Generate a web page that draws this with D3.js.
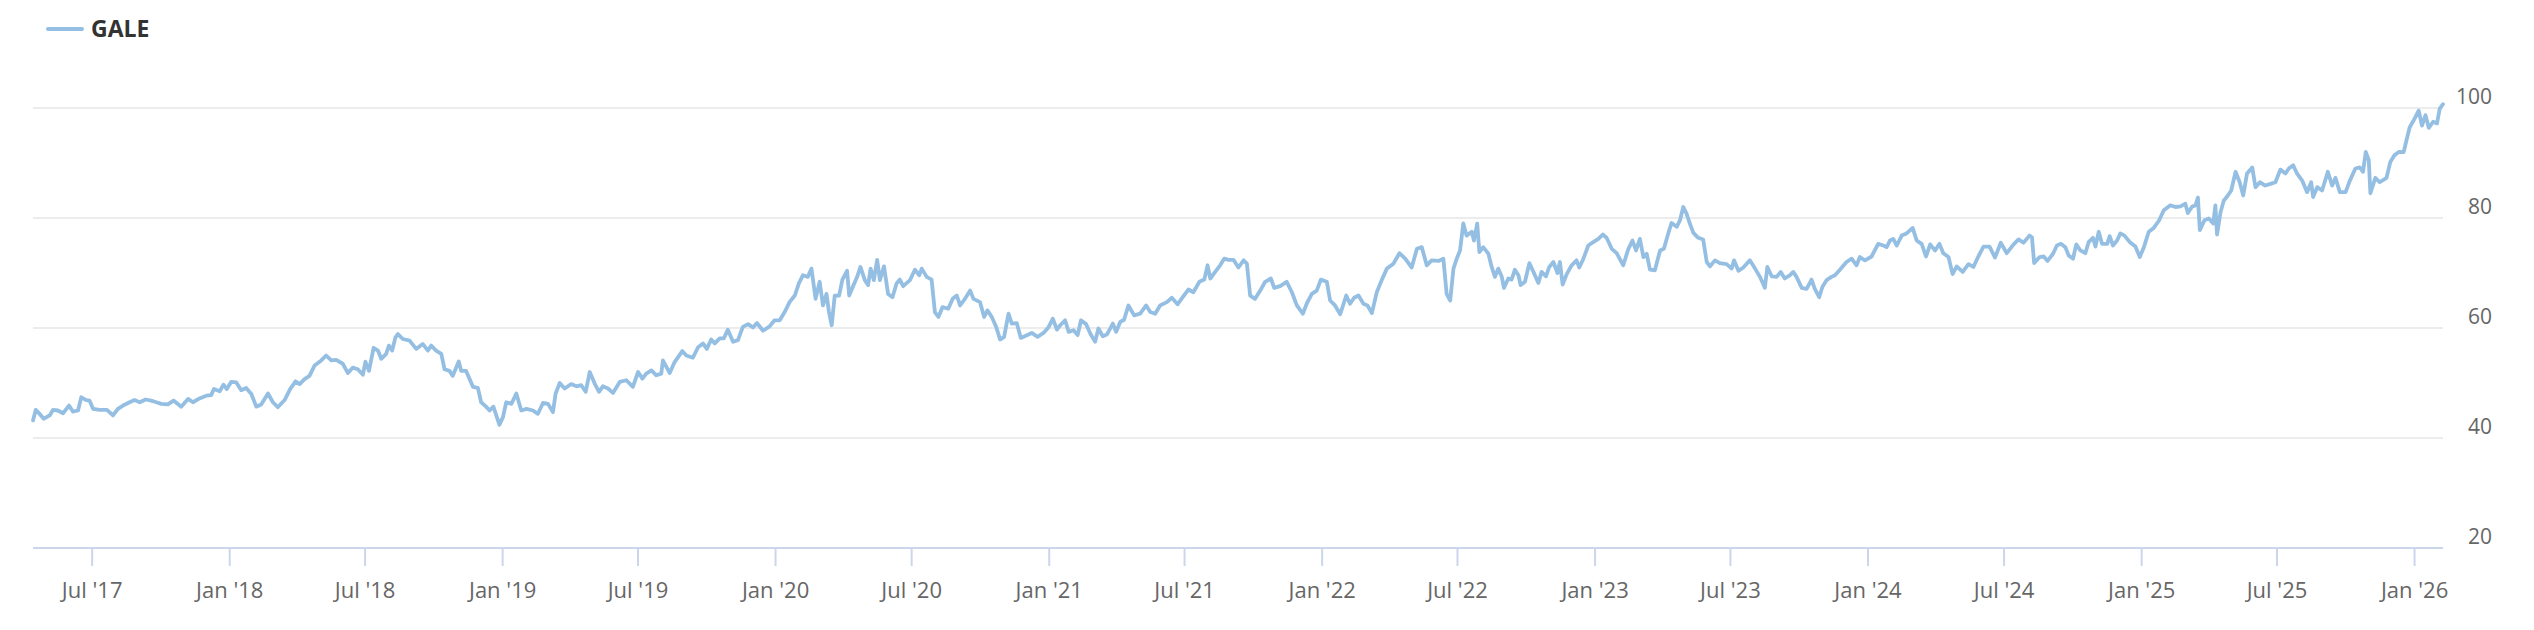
<!DOCTYPE html>
<html>
<head>
<meta charset="utf-8">
<script src="https://cdn.jsdelivr.net/npm/d3@7"></script>
<style>
  html, body { margin: 0; padding: 0; background: #ffffff; }
  svg { display: block; }
</style>
</head>
<body>
<svg id="chart" width="2534" height="630"></svg>
<script>
// ---- DATA ----
const seriesName = "GALE";

// time as decimal years
const times = [
2017.281,2017.291,2017.305,2017.320,2017.342,2017.354,2017.372,2017.391,2017.413,2017.427,2017.446,2017.458,2017.476,2017.488,2017.501,2017.525,2017.552,2017.574,2017.592,2017.611,2017.635,2017.653,2017.672,2017.694,2017.714,2017.733,2017.751,2017.775,2017.796,2017.824,2017.849,2017.867,2017.891,2017.916,2017.934,2017.944,2017.965,2017.979,2017.991,
2018.007,2018.026,2018.044,2018.062,2018.081,2018.099,2018.117,2018.142,2018.160,2018.178,2018.203,2018.223,2018.243,2018.258,2018.276,2018.294,2018.313,2018.337,2018.355,2018.374,2018.392,2018.416,2018.435,2018.453,2018.471,2018.490,2018.499,2018.512,2018.529,2018.545,2018.557,2018.575,2018.585,2018.597,2018.609,2018.618,2018.636,2018.661,2018.685,2018.709,2018.728,2018.740,2018.758,2018.777,2018.789,2018.807,2018.819,2018.841,2018.850,2018.868,2018.893,2018.911,2018.923,2018.941,2018.954,2018.968,2018.990,
2019.003,2019.015,2019.034,2019.052,2019.070,2019.089,2019.113,2019.131,2019.150,2019.168,2019.186,2019.196,2019.211,2019.229,2019.253,2019.272,2019.290,2019.306,2019.321,2019.339,2019.355,2019.369,2019.388,2019.406,2019.431,2019.455,2019.479,2019.498,2019.514,2019.528,2019.547,2019.565,2019.583,2019.589,2019.614,2019.632,2019.660,2019.675,2019.699,2019.718,2019.736,2019.750,2019.766,2019.779,2019.797,2019.812,2019.827,2019.846,2019.864,2019.882,2019.901,2019.919,2019.934,2019.956,2019.980,2019.998,
2020.017,2020.035,2020.053,2020.072,2020.087,2020.102,2020.120,2020.133,2020.148,2020.163,2020.175,2020.188,2020.197,2020.207,2020.218,2020.234,2020.246,2020.263,2020.271,2020.285,2020.300,2020.312,2020.328,2020.340,2020.349,2020.361,2020.373,2020.383,2020.398,2020.413,2020.429,2020.444,2020.456,2020.468,2020.493,2020.511,2020.527,2020.536,2020.554,2020.572,2020.584,2020.597,2020.612,2020.633,2020.649,2020.664,2020.676,2020.694,2020.713,2020.725,
2020.749,2020.764,2020.776,2020.792,2020.808,2020.822,2020.837,2020.853,2020.865,2020.883,2020.898,2020.920,2020.938,2020.959,2020.981,2021.000,2021.015,2021.030,2021.042,2021.060,2021.073,2021.091,2021.106,2021.118,2021.137,2021.154,2021.170,2021.182,2021.198,2021.213,2021.235,2021.247,2021.262,2021.276,2021.292,2021.313,2021.335,2021.357,2021.372,2021.390,2021.408,2021.433,2021.451,2021.472,2021.491,2021.512,2021.530,2021.552,2021.570,2021.582,2021.592,2021.610,2021.628,2021.643,2021.659,2021.677,2021.695,2021.714,2021.726,2021.738,2021.756,2021.775,2021.793,2021.814,2021.826,2021.848,2021.872,2021.891,2021.909,2021.931,2021.946,2021.964,2021.982,2021.997,
2022.019,2022.031,2022.049,2022.068,2022.090,2022.104,2022.119,2022.135,2022.153,2022.168,2022.184,2022.202,2022.220,2022.239,2022.263,2022.285,2022.306,2022.330,2022.349,2022.367,2022.385,2022.403,2022.428,2022.446,2022.458,2022.471,2022.483,2022.495,2022.507,
2022.519,2022.531,2022.550,2022.558,2022.570,2022.578,2022.592,2022.611,2022.623,2022.635,2022.647,2022.660,2022.668,2022.684,2022.696,2022.708,2022.721,2022.729,2022.745,2022.761,2022.776,2022.794,2022.806,2022.822,2022.834,2022.849,2022.864,2022.873,2022.883,2022.898,2022.916,2022.934,2022.944,2022.959,2022.977,2022.995,
2023.014,2023.030,2023.044,2023.063,2023.081,2023.105,2023.124,2023.139,2023.152,2023.166,2023.179,2023.191,2023.203,2023.221,2023.240,2023.254,2023.270,2023.282,2023.301,2023.313,2023.325,2023.337,2023.349,2023.362,2023.380,2023.398,2023.411,2023.423,2023.441,2023.459,2023.484,2023.502,2023.511,2023.527,2023.545,2023.569,2023.588,2023.606,2023.624,2023.633,2023.649,2023.667,2023.682,2023.697,2023.716,2023.728,2023.740,2023.759,2023.777,2023.795,2023.807,2023.823,2023.835,2023.850,2023.868,2023.881,2023.899,2023.923,2023.942,2023.960,2023.972,2023.991,
2024.015,2024.039,2024.058,2024.070,2024.082,2024.094,2024.107,2024.125,2024.143,2024.165,2024.180,2024.198,2024.214,2024.229,2024.247,2024.263,
2024.277,2024.296,2024.311,2024.326,2024.348,2024.369,2024.387,2024.405,2024.424,2024.446,2024.466,2024.487,2024.509,2024.534,2024.552,2024.570,2024.592,2024.601,2024.609,2024.629,2024.644,2024.658,2024.678,2024.692,2024.707,2024.723,2024.735,2024.751,2024.763,2024.778,2024.796,2024.808,2024.824,2024.833,2024.845,2024.857,2024.876,2024.885,2024.897,2024.912,2024.924,2024.939,2024.959,2024.979,2024.995,
2025.010,2025.028,2025.046,2025.065,2025.083,2025.107,2025.126,2025.144,2025.162,2025.171,2025.187,2025.199,2025.208,2025.215,2025.232,2025.248,2025.264,2025.272,2025.278,2025.291,2025.303,2025.315,2025.330,2025.346,2025.361,2025.374,2025.388,2025.407,2025.419,2025.435,2025.455,2025.474,2025.492,2025.510,2025.529,2025.541,2025.557,2025.571,2025.590,2025.608,2025.623,2025.630,2025.645,2025.663,2025.684,2025.700,2025.712,2025.728,2025.749,2025.764,2025.785,2025.801,2025.813,2025.823,2025.834,2025.840,2025.858,2025.874,2025.899,2025.913,2025.928,2025.944,2025.962,2025.972,2025.984,2025.999,
2026.017,2026.029,2026.042,2026.054,2026.070,2026.084,2026.094,2026.106
];

const prices = [
43.2,45.1,44.4,43.5,44.1,45.1,45.0,44.5,45.9,44.8,45.0,47.4,46.9,46.8,45.3,45.1,45.1,44.1,45.3,45.9,46.5,46.9,46.5,47.0,46.8,46.5,46.2,46.1,46.8,45.7,47.1,46.5,47.2,47.7,47.8,48.9,48.5,49.7,48.9,
50.2,50.1,48.7,49.1,48.0,45.7,46.1,48.1,46.5,45.6,46.9,48.9,50.3,49.8,50.7,51.3,53.2,54.1,55.0,54.1,54.2,53.5,51.8,52.8,52.5,51.5,53.9,52.2,56.4,55.9,54.4,55.3,56.8,55.9,58.3,58.9,58.0,57.7,56.2,57.1,55.9,56.8,55.9,55.3,52.5,52.2,51.3,53.9,52.2,52.2,49.3,49.1,46.5,45.7,45.0,45.7,42.4,
43.8,46.5,46.2,48.1,45.0,45.3,45.0,44.4,46.4,46.2,44.7,48.1,50.0,49.0,49.8,49.4,49.6,48.4,52.0,49.9,48.4,49.4,49.0,48.2,50.2,50.5,49.3,52.0,50.8,51.7,52.3,51.4,51.7,54.1,51.8,53.8,55.8,55.0,54.6,56.5,57.2,56.2,57.9,57.2,58.1,58.1,59.7,57.5,57.8,60.2,60.7,60.1,60.9,59.5,60.3,61.4,
61.4,62.9,64.7,65.9,68.1,69.6,69.3,70.8,65.3,68.4,64.1,66.2,62.9,60.5,65.9,65.9,68.8,70.4,65.9,67.6,69.3,71.1,68.7,67.8,70.8,68.7,72.4,68.7,71.2,66.2,65.6,68.1,68.8,67.6,68.7,70.6,69.6,70.8,69.3,68.8,62.9,62.0,63.8,63.5,65.3,65.9,64.1,65.3,66.8,65.3,
64.7,62.0,63.2,62.0,60.2,57.9,58.4,62.6,60.8,60.9,58.2,58.7,59.1,58.4,59.1,60.2,61.7,59.7,60.5,61.4,59.3,59.6,58.7,61.4,60.7,58.8,57.5,59.9,58.5,58.8,60.8,59.3,61.1,61.5,64.1,62.3,62.6,64.1,62.9,62.6,64.1,64.7,65.5,64.3,65.6,67.0,66.5,68.4,68.8,71.4,69.0,70.2,71.4,72.6,72.4,72.4,71.0,72.3,71.7,65.9,65.3,66.8,68.4,69.0,67.3,67.6,68.4,66.5,64.1,62.6,64.5,66.2,66.8,68.8,
68.4,65.0,64.1,62.5,65.9,64.4,65.5,65.9,64.4,64.1,62.7,66.5,68.7,70.8,71.7,73.6,72.6,71.0,74.4,74.7,71.4,72.3,72.2,72.6,66.2,65.0,70.8,72.6,74.1,
79.0,76.8,77.5,75.9,79.0,73.8,74.7,73.5,71.1,69.3,70.8,69.3,67.3,69.0,68.8,70.6,69.6,67.8,68.4,71.8,70.2,68.2,70.2,69.4,71.1,72.0,70.0,72.0,67.9,69.8,71.4,72.3,71.0,72.6,75.0,75.6,
76.2,77.0,76.4,74.4,73.6,71.4,74.4,75.9,74.1,76.2,72.9,73.5,70.6,70.5,74.1,74.4,77.2,79.1,78.4,79.6,82.0,80.8,79.0,77.3,76.4,76.1,72.0,71.2,72.3,71.8,71.6,70.8,72.3,70.4,71.0,72.3,70.8,69.3,67.3,71.1,69.4,69.3,70.2,69.0,69.6,70.2,69.3,67.3,67.1,68.8,67.1,65.6,67.5,68.7,69.3,69.6,70.6,72.0,72.6,71.4,72.9,72.3,
73.0,75.3,75.0,74.7,75.9,76.2,75.0,76.8,77.2,78.2,75.9,75.3,73.0,75.2,74.1,75.3,
73.6,72.9,69.8,71.2,70.2,71.6,71.1,73.0,74.8,74.8,72.8,75.5,73.6,75.2,76.1,75.5,76.8,76.5,71.8,72.9,73.0,72.2,73.5,75.0,75.3,74.7,73.2,72.6,75.2,74.1,73.6,75.6,76.4,74.8,77.5,75.3,75.3,76.7,75.0,75.9,77.2,76.8,75.6,74.8,72.9,
74.7,77.5,78.2,79.5,81.4,82.3,82.0,82.1,82.6,80.9,82.1,82.3,83.7,77.8,79.6,79.9,79.0,82.3,77.0,81.1,83.2,83.9,85.0,88.4,86.5,84.1,88.1,89.2,85.6,86.5,85.9,86.2,86.5,88.8,88.1,89.0,89.6,88.1,86.8,84.7,86.5,83.8,85.6,85.0,88.4,85.9,87.3,84.7,84.7,86.7,89.0,89.2,88.4,92.0,90.5,84.5,87.3,86.5,87.3,90.2,91.4,92.0,92.0,94.1,96.5,97.8,
99.5,96.8,98.7,96.4,97.5,97.2,99.9,100.7
];

const yTicks = [20, 40, 60, 80, 100];
const xTickFormat = "%b '%y";

// ---- helpers ----
function decYearToDate(t) {
  const y = Math.floor(t);
  const start = new Date(y, 0, 1).getTime();
  const end = new Date(y + 1, 0, 1).getTime();
  return new Date(start + (t - y) * (end - start));
}
const data = times.map((t, i) => ({ date: decYearToDate(t), value: prices[i] }));

// ---- layout ----
const W = 2534, H = 630;
const plot = { left: 33, right: 2443, top: 108, bottom: 548 };

const svg = d3.select("#chart");

const x = d3.scaleTime()
  .domain(d3.extent(data, d => d.date))
  .range([plot.left, plot.right]);

const y = d3.scaleLinear()
  .domain([20, 100])
  .range([plot.bottom, plot.top]);

// grid lines
svg.append("g")
  .selectAll("line")
  .data(yTicks.filter(v => v !== 20))
  .join("line")
  .attr("x1", plot.left)
  .attr("x2", plot.right)
  .attr("y1", d => y(d))
  .attr("y2", d => y(d))
  .attr("stroke", "#e6e6e6")
  .attr("stroke-width", 1.5);

// y axis labels (right side)
const yAxis = d3.axisRight(y).tickValues(yTicks).tickSize(0).tickFormat(d3.format("d"));
const yG = svg.append("g")
  .attr("transform", `translate(${plot.right + 49},0)`)
  .call(yAxis);
yG.select(".domain").remove();
yG.selectAll("text")
  .attr("x", 0)
  .attr("dy", null)
  .attr("dominant-baseline", "alphabetic")
  .attr("transform", "translate(0,-4.5)")
  .attr("text-anchor", "end")
  .attr("fill", "#666666")
  .style("font-family", "'Open Sans', sans-serif")
  .style("font-size", "21px");

// x axis
const xAxis = d3.axisBottom(x)
  .ticks(d3.timeMonth.every(6))
  .tickFormat(d3.timeFormat(xTickFormat))
  .tickSize(18)
  .tickPadding(14);
const xG = svg.append("g")
  .attr("transform", `translate(0,${plot.bottom})`)
  .call(xAxis);
xG.select(".domain")
  .attr("d", `M${plot.left},0H${plot.right}`)
  .attr("stroke", "#ccd6eb")
  .attr("stroke-width", 2);
xG.selectAll(".tick line")
  .attr("stroke", "#ccd6eb")
  .attr("stroke-width", 2);
xG.selectAll(".tick text")
  .attr("fill", "#666666")
  .attr("dy", null)
  .attr("y", 50)
  .style("font-family", "'Open Sans', sans-serif")
  .style("font-size", "22px");

// line
const line = d3.line()
  .x(d => x(d.date))
  .y(d => y(d.value))
  .curve(d3.curveLinear);

svg.append("path")
  .datum(data)
  .attr("d", line)
  .attr("fill", "none")
  .attr("stroke", "#94bfe3")
  .attr("stroke-width", 3.8)
  .attr("stroke-linejoin", "round")
  .attr("stroke-linecap", "round");

// legend
const legend = svg.append("g");
legend.append("line")
  .attr("x1", 48).attr("x2", 82)
  .attr("y1", 29).attr("y2", 29)
  .attr("stroke", "#94bfe3")
  .attr("stroke-width", 4)
  .attr("stroke-linecap", "round");
legend.append("text")
  .attr("x", 91)
  .attr("y", 37)
  .attr("fill", "#333333")
  .style("font-family", "'Open Sans', sans-serif")
  .style("font-size", "23px")
  .style("font-weight", "700")
  .text(seriesName);
</script>
</body>
</html>
